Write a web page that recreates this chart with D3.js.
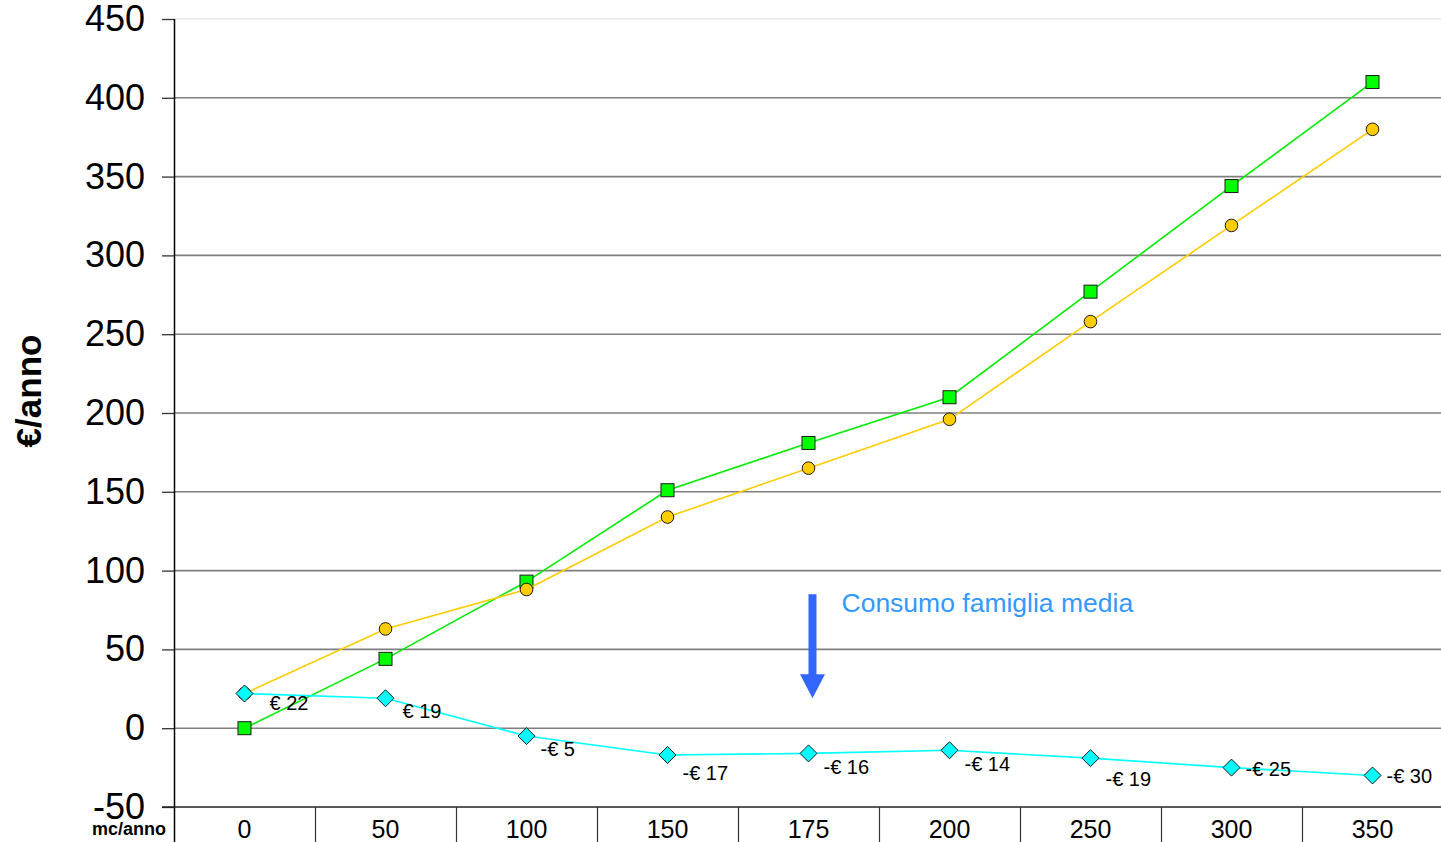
<!DOCTYPE html>
<html>
<head>
<meta charset="utf-8">
<script src="https://cdn.jsdelivr.net/npm/d3@7"></script>
<style>
  html, body { margin: 0; padding: 0; background: #fff; }
  svg { display: block; font-family: "Liberation Sans", Arial, sans-serif; }
</style>
</head>
<body>
<svg id="chart" width="1441" height="842"></svg>
<script>
// ---- data ----
const categories = ["0", "50", "100", "150", "175", "200", "250", "300", "350"];
const seriesGreen = [0, 44, 93, 151, 181, 210, 277, 344, 410];
const seriesOrange = [22, 63, 88, 134, 165, 196, 258, 319, 380];
const seriesDiff = [22, 19, -5, -17, -16, -14, -19, -25, -30];
const diffLabels = ["€ 22", "€ 19", "-€ 5", "-€ 17", "-€ 16", "-€ 14", "-€ 19", "-€ 25", "-€ 30"];
const yTicks = [-50, 0, 50, 100, 150, 200, 250, 300, 350, 400, 450];
const annotationText = "Consumo famiglia media";
const annotationCategory = "175";
const annotationRange = [85, 19];

// ---- layout (pixel offsets for data labels) ----
const labelDx = [26, 18, 15, 16, 16, 16, 16, 15, 15];
const labelDy = [9.5, 13, 12.5, 18, 14, 14, 21, 1, 0.5];

(function () {
const svg = d3.select("#chart");
const pLeft = 174, pRight = 1443, pTop = 19, pBottom = 807;

const x = d3.scaleBand().domain(categories).range([pLeft, pRight]).paddingInner(0).paddingOuter(0);
const y = d3.scaleLinear().domain([-50, 450]).range([pBottom, pTop]);
const cx = c => x(c) + x.bandwidth() / 2;

// gridlines
svg.append("g").selectAll("line").data(yTicks.filter(t => t > -50)).join("line")
  .attr("x1", pLeft).attr("x2", 1441)
  .attr("y1", d => y(d)).attr("y2", d => y(d))
  .attr("stroke", d => d === 450 ? "#dcdcdc" : "#7f7f7f")
  .attr("stroke-width", d => d === 450 ? 1 : 1.6);

// y axis
const yAxis = d3.axisLeft(y).tickValues(yTicks).tickSize(12).tickPadding(17).tickFormat(d => String(d));
const gy = svg.append("g").attr("transform", `translate(${pLeft},0)`).call(yAxis);
gy.select(".domain").remove();
gy.selectAll(".tick line").attr("stroke", "#333").attr("stroke-width", 1.3);
gy.selectAll(".tick text").attr("font-size", 36).attr("fill", "#000")
  .attr("font-family", "'Liberation Sans', Arial, sans-serif");
svg.append("line").attr("x1", pLeft + 0.5).attr("x2", pLeft + 0.5).attr("y1", pTop).attr("y2", 842)
  .attr("stroke", "#000").attr("stroke-width", 1.5);

// x axis
svg.append("line").attr("x1", 162).attr("x2", 1441).attr("y1", pBottom).attr("y2", pBottom)
  .attr("stroke", "#222").attr("stroke-width", 1.5);
const xAxis = d3.axisBottom(x).tickSize(0).tickPadding(0);
const gx = svg.append("g").attr("transform", `translate(0,${pBottom})`).call(xAxis);
gx.select(".domain").remove();
gx.selectAll(".tick text").attr("font-size", 25).attr("fill", "#000").attr("dy", null).attr("y", 31)
  .attr("font-family", "'Liberation Sans', Arial, sans-serif");
svg.append("g").selectAll("line").data(categories.slice(1)).join("line")
  .attr("x1", d => x(d) + 0.5).attr("x2", d => x(d) + 0.5)
  .attr("y1", pBottom).attr("y2", 842).attr("stroke", "#333").attr("stroke-width", 1.2);

svg.append("text").attr("x", 166).attr("y", 835).attr("text-anchor", "end")
  .attr("font-size", 18).attr("font-weight", "bold").text("mc/anno");

// y title
svg.append("text").attr("transform", "translate(41,391) rotate(-90)").attr("text-anchor", "middle")
  .attr("font-size", 35).attr("font-weight", "bold").text("€/anno");

// lines
const line = d3.line().x((d, i) => cx(categories[i])).y(d => y(d));
function drawSeries(values, color) {
  svg.append("path").datum(values).attr("d", line).attr("fill", "none")
    .attr("stroke", color).attr("stroke-width", 1.6);
}
drawSeries(seriesGreen, "#00ee00");
svg.append("g").selectAll("rect").data(seriesGreen).join("rect")
  .attr("x", (d, i) => cx(categories[i]) - 6.5).attr("y", d => y(d) - 6.5)
  .attr("width", 13).attr("height", 13).attr("fill", "#00ff00").attr("stroke", "#1a1a1a").attr("stroke-width", 1);

drawSeries(seriesOrange, "#ffcc00");
svg.append("g").selectAll("circle").data(seriesOrange).join("circle")
  .attr("cx", (d, i) => cx(categories[i])).attr("cy", d => y(d)).attr("r", 6.3)
  .attr("fill", "#ffcc00").attr("stroke", "#1a1a1a").attr("stroke-width", 1);

drawSeries(seriesDiff, "#00ffff");
svg.append("g").selectAll("path").data(seriesDiff).join("path")
  .attr("transform", (d, i) => `translate(${cx(categories[i])},${y(d)})`)
  .attr("d", "M0,-8.5L8.5,0L0,8.5L-8.5,0Z")
  .attr("fill", "#00ffff").attr("stroke", "#1a1a1a").attr("stroke-width", 1);

// data labels
svg.append("g").selectAll("text").data(seriesDiff).join("text")
  .attr("x", (d, i) => cx(categories[i]) + labelDx[i] - 1)
  .attr("y", (d, i) => y(d) + labelDy[i] + 7)
  .attr("font-size", 20).attr("fill", "#000")
  .text((d, i) => diffLabels[i]);

// annotation arrow
const ax = cx(annotationCategory) + 4;
const yTop = y(annotationRange[0]), yTip = y(annotationRange[1]);
svg.append("rect").attr("x", ax - 4).attr("y", yTop).attr("width", 8).attr("height", yTip - 22 - yTop + 2)
  .attr("fill", "#3366ff");
svg.append("path").attr("d", `M${ax - 12.5},${yTip - 24}L${ax + 12.5},${yTip - 24}L${ax},${yTip}Z`)
  .attr("fill", "#3366ff");
svg.append("text").attr("x", ax + 29).attr("y", yTop + 18).attr("font-size", 26.5)
  .attr("fill", "#3399ff").text(annotationText);
})();
</script>
</body>
</html>
